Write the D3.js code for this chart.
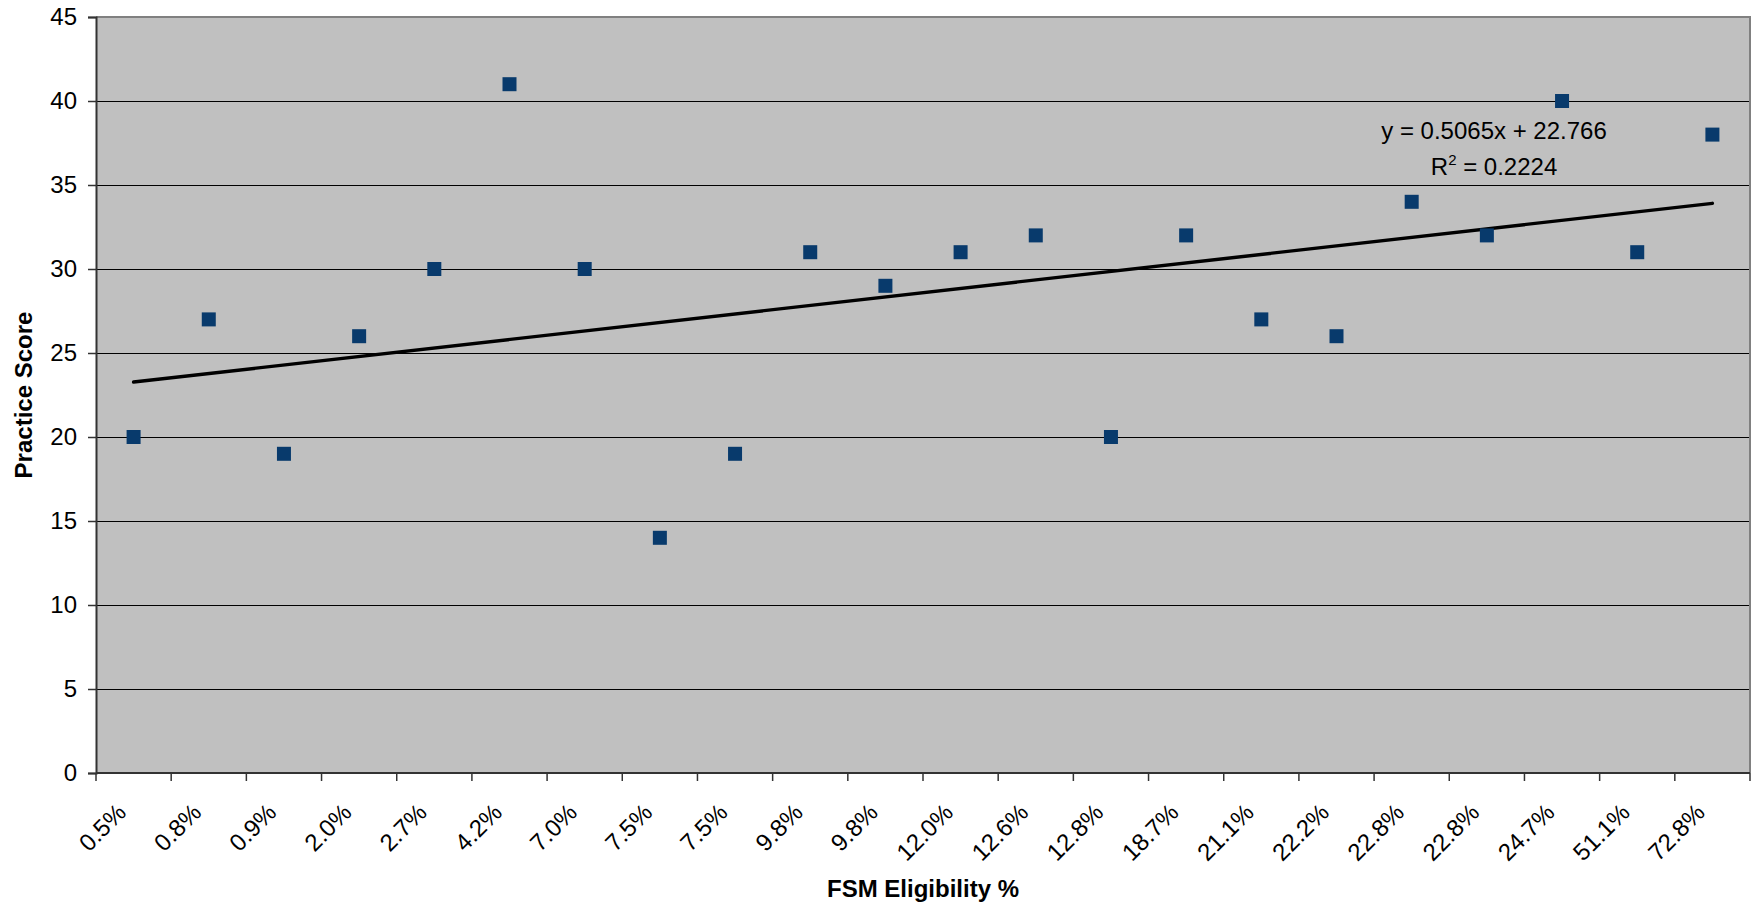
<!DOCTYPE html>
<html>
<head>
<meta charset="utf-8">
<script src="https://cdn.jsdelivr.net/npm/d3@7"></script>
<style>
  html, body { margin: 0; padding: 0; background: #ffffff; }
  svg { display: block; }
  text { font-family: "Liberation Sans", Arial, sans-serif; fill: #000; }
</style>
</head>
<body>
<svg id="chart" width="1751" height="909"></svg>
<script>
// FSM eligibility per school (category axis, in listed order)
const categories = ["0.5%", "0.8%", "0.9%", "2.0%", "2.7%", "4.2%", "7.0%", "7.5%", "7.5%", "9.8%", "9.8%",
                    "12.0%", "12.6%", "12.8%", "18.7%", "21.1%", "22.2%", "22.8%", "22.8%", "24.7%", "51.1%", "72.8%"];
// Practice score for each school
const scores = [20, 27, 19, 26, 30, 41, 30, 14, 19, 31, 29, 31, 32, 20, 32, 27, 26, 34, 32, 40, 31, 38];
// Linear trendline (x = category position 1..n)
const trendSlope = 0.5065;
const trendIntercept = 22.766;
const rSquared = "0.2224";
const yTicks = [0, 5, 10, 15, 20, 25, 30, 35, 40, 45];

const svg = d3.select("#chart");
const plot = { left: 96, top: 17, right: 1750, bottom: 773 };

const x = d3.scaleBand()
  .domain(d3.range(categories.length))
  .range([plot.left, plot.right])
  .padding(0);

const y = d3.scaleLinear()
  .domain([0, 45])
  .range([plot.bottom, plot.top]);

// plot area background
svg.append("rect")
  .attr("x", plot.left).attr("y", plot.top)
  .attr("width", plot.right - plot.left).attr("height", plot.bottom - plot.top)
  .attr("fill", "#c0c0c0");

// horizontal gridlines
svg.append("g")
  .selectAll("line")
  .data(yTicks.filter(t => t > 0 && t < 45))
  .join("line")
  .attr("x1", plot.left).attr("x2", plot.right)
  .attr("y1", d => Math.round(y(d)) + 0.5).attr("y2", d => Math.round(y(d)) + 0.5)
  .attr("stroke", "#000").attr("stroke-width", 1);

// plot border (top and right)
svg.append("path")
  .attr("d", `M${plot.left},${plot.top} H${plot.right} V${plot.bottom}`)
  .attr("fill", "none").attr("stroke", "#808080").attr("stroke-width", 2);

// y axis
const yAxis = d3.axisLeft(y).tickValues(yTicks).tickSize(8).tickPadding(11);
const gy = svg.append("g").attr("transform", `translate(${plot.left},0)`).call(yAxis);
gy.select(".domain").attr("stroke", "#333").attr("stroke-width", 2);
gy.selectAll(".tick line").attr("stroke", "#333").attr("stroke-width", 1.5);
gy.selectAll(".tick text").style("font-size", "24px").style("font-family", "Liberation Sans, Arial, sans-serif").attr("fill", "#000");

// x axis: ticks at category boundaries
const boundaries = d3.range(categories.length + 1).map(i => plot.left + i * x.step());
const gx = svg.append("g");
gx.append("line")
  .attr("x1", plot.left).attr("x2", plot.right)
  .attr("y1", plot.bottom).attr("y2", plot.bottom)
  .attr("stroke", "#333").attr("stroke-width", 2);
gx.selectAll("line.tick")
  .data(boundaries)
  .join("line")
  .attr("class", "tick")
  .attr("x1", d => d).attr("x2", d => d)
  .attr("y1", plot.bottom).attr("y2", plot.bottom + 8)
  .attr("stroke", "#333").attr("stroke-width", 1.5);
gx.selectAll("text")
  .data(categories)
  .join("text")
  .attr("transform", (d, i) => `translate(${x(i) + x.bandwidth() / 2 - 6},${plot.bottom + 41}) rotate(-45)`)
  .attr("text-anchor", "end")
  .style("font-size", "24px")
  .text(d => d);

// trendline
const n = scores.length;
const trend = [1, n].map(k => ({ k, v: trendIntercept + trendSlope * k }));
svg.append("line")
  .attr("x1", x(trend[0].k - 1) + x.bandwidth() / 2).attr("y1", y(trend[0].v))
  .attr("x2", x(trend[1].k - 1) + x.bandwidth() / 2).attr("y2", y(trend[1].v))
  .attr("stroke", "#000").attr("stroke-width", 3.4).attr("stroke-linecap", "round");

// markers
const m = 14;
svg.append("g")
  .selectAll("rect")
  .data(scores)
  .join("rect")
  .attr("x", (d, i) => x(i) + x.bandwidth() / 2 - m / 2)
  .attr("y", d => y(d) - m / 2)
  .attr("width", m).attr("height", m)
  .attr("fill", "#083a6c");

// trendline equation label
const eq = svg.append("g").attr("transform", "translate(1494,0)");
eq.append("text").attr("y", 139).attr("text-anchor", "middle").style("font-size", "24px")
  .text(`y = ${trendSlope}x + ${trendIntercept}`);
const r2 = eq.append("text").attr("y", 175).attr("text-anchor", "middle").style("font-size", "24px");
r2.append("tspan").text("R");
r2.append("tspan").attr("dy", -10).style("font-size", "15px").text("2");
r2.append("tspan").attr("dy", 10).text(` = ${rSquared}`);

// axis titles
svg.append("text")
  .attr("x", (plot.left + plot.right) / 2).attr("y", 897)
  .attr("text-anchor", "middle")
  .style("font-size", "24px").style("font-weight", "bold")
  .text("FSM Eligibility %");

svg.append("text")
  .attr("transform", `translate(32,${(plot.top + plot.bottom) / 2}) rotate(-90)`)
  .attr("text-anchor", "middle")
  .style("font-size", "24px").style("font-weight", "bold")
  .text("Practice Score");
</script>
</body>
</html>
